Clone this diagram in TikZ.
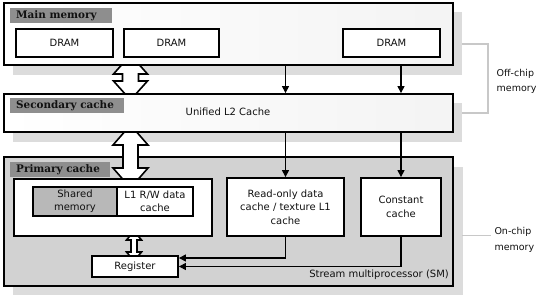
\documentclass[tikz,border=0pt]{standalone}
\usepackage{fontspec}
\setmainfont{DejaVu Sans}
\newfontfamily\lblfont{DejaVu Serif}
\usetikzlibrary{arrows.meta,fit}
\definecolor{shc}{HTML}{DCDCDC}
\definecolor{smc}{HTML}{D2D2D2}
\definecolor{lblc}{HTML}{8E8E8E}
\definecolor{shmc}{HTML}{B8B8B8}
\definecolor{brc}{HTML}{C8C8C8}
\definecolor{txc}{HTML}{111111}
\newcommand{\hollowdbl}[6]{%
  \draw[hollow] (#1,#2) -- ({#1+#5},{#2+#4}) -- ({#1+#6},{#2+#4}) -- ({#1+#6},{#3-#4}) -- ({#1+#5},{#3-#4}) -- (#1,#3) -- ({#1-#5},{#3-#4}) -- ({#1-#6},{#3-#4}) -- ({#1-#6},{#2+#4}) -- ({#1-#5},{#2+#4}) -- cycle;}
\begin{document}
\begin{tikzpicture}[x=1pt,y=-1pt,
  box/.style={draw=black, line width=1.8pt, fill=white, inner sep=0pt},
  gbox/.style={draw=black, line width=1.8pt, left color=white, right color=gray!9, inner sep=0pt},
  shadowbox/.style={fill=shc, draw=none, inner sep=0pt},
  lblbox/.style={fill=lblc, draw=none, inner sep=0pt},
  lbltxt/.style={font=\lblfont\bfseries\fontsize{10.4}{12}\selectfont, text=txc, anchor=base west, inner sep=0pt},
  txt/.style={font=\fontsize{10}{13.3}\selectfont, text=txc, align=center, inner sep=0pt},
  sidetxt/.style={font=\fontsize{9.5}{15.5}\selectfont, text=txc, align=left, anchor=west, inner sep=0pt},
  hollow/.style={draw=black, line width=1.6pt, fill=white, line join=miter},
  arr/.style={line width=1.1pt, -{Triangle[length=7pt,width=7pt]}},
  brk/.style={draw=brc, line width=1.5pt}
]
\useasboundingbox (0,0) rectangle (537,304);
% shadows
\node[shadowbox, fit={(13,12)(462,75)}] (mmsh) {};
\node[shadowbox, fit={(13,103)(462,142)}] (scsh) {};
\node[shadowbox, fit={(13,167)(463,295)}] (smsh) {};
% SM box
\node[box, fill=smc, fit={(4,157)(453,286)}] (sm) {};
% hollow double arrows
\hollowdbl{130.5}{55}{100}{19}{17}{8}
\hollowdbl{130.5}{125}{188}{20}{17.5}{7.5}
\hollowdbl{134}{231}{261}{9}{7.5}{3}
% main memory
\node[gbox, fit={(4,3)(453,65)}] (mm) {};
\node[lblbox, fit={(10,8)(112,23)}] (mml) {};
\node[lbltxt] at (16,19) {Main memory};
\node[box, fit={(16,29)(113,57)}] (d1) {};
\node[box, fit={(124,29)(219,57)}] (d2) {};
\node[box, fit={(343,29)(440,57)}] (d3) {};
\node[txt] at (d1) {DRAM};
\node[txt] at (d2) {DRAM};
\node[txt] at (d3) {DRAM};
% secondary cache
\node[gbox, fit={(4,94)(453,132)}] (sc) {};
\node[lblbox, fit={(10,98)(124,113)}] (scl) {};
\node[lbltxt] at (16,108.5) {Secondary cache};
\node[txt, anchor=base] at (228,115.7) {Unified L2 Cache};
% primary cache
\node[lblbox, fit={(10,162)(110,177)}] (pcl) {};
\node[lbltxt] at (16,172.7) {Primary cache};
\node[box, fit={(14,179)(212,236)}] (l1c) {};
\node[box, fill=shmc, fit={(33,187)(117,216)}] (shm) {};
\node[box, fit={(117,187)(193,216)}] (l1rw) {};
\node[txt] at (shm) {Shared\\memory};
\node[txt] at (l1rw) {L1 R/W data\\cache};
\node[box, fit={(227,178)(344,236)}] (ro) {};
\node[txt] at (ro) {Read-only data\\cache / texture L1\\cache};
\node[box, fit={(361,178)(441,236)}] (cc) {};
\node[txt] at (cc) {Constant\\cache};
\node[box, fit={(92,256)(178,277)}] (reg) {};
\node[txt] at (reg) {Register};
\node[txt, anchor=base east] at (449,277) {Stream multiprocessor (SM)};
% connectors
\draw[arr] (mm.south -| ro) -- (sc.north -| ro);
\draw[arr] (mm.south -| cc) -- (sc.north -| cc);
\draw[arr] (sc.south -| ro) -- (ro.north);
\draw[arr] (sc.south -| cc) -- (cc.north);
\draw[arr] (ro.south) |- ([yshift=8.5pt]reg.east);
\draw[arr] (cc.south) |- (reg.east);
% brackets
\coordinate (ofa) at (462,44);
\coordinate (ofb) at (488,44);
\coordinate (ofc) at (488,113);
\coordinate (ofd) at (462,113);
\draw[brk] (ofa) -- (ofb) -- (ofc) -- (ofd);
\coordinate (ona) at (462,235.7);
\coordinate (onb) at (491,235.7);
\draw[brk] (ona) -- (onb);
\node[sidetxt] (offt) at (496.5,81.3) {Off-chip\\memory};
\node[sidetxt] (ont) at (494.3,239.8) {On-chip\\memory};
\end{tikzpicture}
\end{document}
